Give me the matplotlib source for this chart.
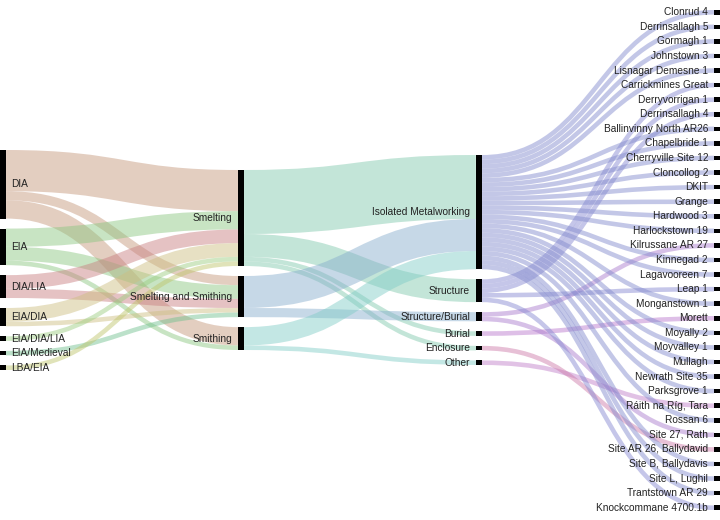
import matplotlib
matplotlib.use("Agg")
import matplotlib.pyplot as plt
from matplotlib.path import Path
from matplotlib.patches import PathPatch, Rectangle

W, H = 720, 520
DPI = 100
NODE_W = 6
PAD = 10
TOP, BOTTOM = 10, 510

# ---- data -------------------------------------------------------------
periods = ["DIA", "EIA", "DIA/LIA", "EIA/DIA", "EIA/DIA/LIA", "EIA/Medieval", "LBA/EIA"]
activities = ["Smelting", "Smelting and Smithing", "Smithing"]
contexts = ["Isolated Metalworking", "Structure", "Structure/Burial", "Burial", "Enclosure", "Other"]
sites = [
    "Clonrud 4", "Derrinsallagh 5", "Gormagh 1", "Johnstown 3", "Lisnagar Demesne 1",
    "Carrickmines Great", "Derryvorrigan 1", "Derrinsallagh 4", "Ballinvinny North AR26",
    "Chapelbride 1", "Cherryville Site 12", "Cloncollog 2", "DKIT", "Grange", "Hardwood 3",
    "Harlockstown 19", "Kilrussane AR 27", "Kinnegad 2", "Lagavooreen 7", "Leap 1",
    "Monganstown 1", "Morett", "Moyally 2", "Moyvalley 1", "Mullagh", "Newrath Site 35",
    "Parksgrove 1", "Ráith na Ríg, Tara", "Rossan 6", "Site 27, Rath",
    "Site AR 26, Ballydavid", "Site B, Ballydavis", "Site L, Lughil", "Trantstown AR 29",
    "Knockcommane 4700.1b",
]
# context each site is recorded under (same order as sites)
site_context = [
    "Isolated Metalworking", "Isolated Metalworking", "Isolated Metalworking",
    "Isolated Metalworking", "Isolated Metalworking",
    "Structure", "Structure", "Structure", "Isolated Metalworking",
    "Isolated Metalworking", "Isolated Metalworking", "Isolated Metalworking",
    "Isolated Metalworking", "Isolated Metalworking", "Isolated Metalworking",
    "Isolated Metalworking", "Structure/Burial", "Isolated Metalworking",
    "Isolated Metalworking", "Structure",
    "Isolated Metalworking", "Burial", "Isolated Metalworking", "Isolated Metalworking",
    "Isolated Metalworking", "Isolated Metalworking",
    "Isolated Metalworking", "Other", "Isolated Metalworking", "Structure/Burial",
    "Enclosure", "Isolated Metalworking", "Isolated Metalworking", "Isolated Metalworking",
    "Structure",
]

period_src = ["DIA", "DIA", "DIA", "EIA", "EIA", "EIA", "DIA/LIA", "DIA/LIA",
              "EIA/DIA", "EIA/DIA", "EIA/DIA/LIA", "EIA/Medieval", "LBA/EIA"]
period_dst = ["Smelting", "Smelting and Smithing", "Smithing",
              "Smelting", "Smelting and Smithing", "Smithing",
              "Smelting", "Smelting and Smithing",
              "Smelting", "Smelting and Smithing",
              "Smelting", "Smelting and Smithing", "Smelting"]
period_val = [9, 2, 4, 4, 3, 1, 3, 2, 3, 1, 1, 1, 1]

activity_src = ["Smelting", "Smelting", "Smelting", "Smelting",
                "Smelting and Smithing", "Smelting and Smithing",
                "Smithing", "Smithing"]
activity_dst = ["Isolated Metalworking", "Structure", "Burial", "Enclosure",
                "Isolated Metalworking", "Structure/Burial",
                "Isolated Metalworking", "Other"]
activity_val = [14, 5, 1, 1, 7, 2, 4, 1]

colors = {
    "DIA": "#c5977b", "EIA": "#8bc781", "DIA/LIA": "#c97f81", "EIA/DIA": "#cdbf81",
    "EIA/DIA/LIA": "#9bcd81", "EIA/Medieval": "#71c18f", "LBA/EIA": "#bfc56b",
    "Smelting": "#81c9ad", "Smelting and Smithing": "#87adcd", "Smithing": "#81cdc7",
    "Isolated Metalworking": "#8189cd", "Structure": "#8587d1",
    "Structure/Burial": "#a97bcd", "Burial": "#b977cd", "Enclosure": "#cd79a9",
    "Other": "#c17fc9",
}

# ---- layout -----------------------------------------------------------
columns = [periods, activities, contexts, sites]
links = list(zip(period_src, period_dst, period_val))
links += list(zip(activity_src, activity_dst, activity_val))
links += [(c, s, 1) for s, c in zip(sites, site_context)]

node_in = {}
node_out = {}
for s, t, v in links:
    node_out[s] = node_out.get(s, 0) + v
    node_in[t] = node_in.get(t, 0) + v
value = {n: max(node_in.get(n, 0), node_out.get(n, 0)) for col in columns for n in col}

ky = min((BOTTOM - TOP - (len(col) - 1) * PAD) / sum(value[n] for n in col) for col in columns)
mid = (TOP + BOTTOM) / 2
xs = [i * (W - NODE_W) / (len(columns) - 1) for i in range(len(columns))]

pos = {}
for ci, col in enumerate(columns):
    total = sum(value[n] for n in col) * ky + (len(col) - 1) * PAD
    y = mid - total / 2
    for n in col:
        h = value[n] * ky
        pos[n] = (ci, xs[ci], y, y + h)
        y += h + PAD

# link offsets: outgoing sorted by target y, incoming sorted by source y
src_off = {}
tgt_off = {}
for n in pos:
    outs = sorted([l for l in links if l[0] == n], key=lambda l: pos[l[1]][2])
    y = pos[n][2]
    for l in outs:
        src_off[l] = y
        y += l[2] * ky
    ins = sorted([l for l in links if l[1] == n], key=lambda l: pos[l[0]][2])
    y = pos[n][2]
    for l in ins:
        tgt_off[l] = y
        y += l[2] * ky

# ---- draw -------------------------------------------------------------
fig = plt.figure(figsize=(W / DPI, H / DPI), dpi=DPI)
ax = fig.add_axes([0, 0, 1, 1])
ax.set_xlim(0, W)
ax.set_ylim(H, 0)
ax.axis("off")

for l in links:
    s, t, v = l
    w = v * ky
    x0 = pos[s][1] + NODE_W
    x1 = pos[t][1]
    ys = src_off[l] + w / 2
    yt = tgt_off[l] + w / 2
    xm = (x0 + x1) / 2
    path = Path([(x0, ys), (xm, ys), (xm, yt), (x1, yt)],
                [Path.MOVETO, Path.CURVE4, Path.CURVE4, Path.CURVE4])
    ax.add_patch(PathPatch(path, facecolor="none", edgecolor=colors[s], alpha=0.47,
                           lw=w * 72 / DPI, capstyle="butt"))

font = ["Liberation Sans", "DejaVu Sans"]
for n, (ci, x, y0, y1) in pos.items():
    ax.add_patch(Rectangle((x, y0), NODE_W, y1 - y0, facecolor="black", edgecolor="none"))
    yc = (y0 + y1) / 2
    if ci == 0:
        ax.text(x + NODE_W + 5, yc, n, ha="left", va="center", fontsize=7.3,
                family=font, color="#222222")
    else:
        ax.text(x - 6, yc, n, ha="right", va="center", fontsize=7.3,
                family=font, color="#222222")

fig.savefig("out.png", dpi=DPI, facecolor="white")
